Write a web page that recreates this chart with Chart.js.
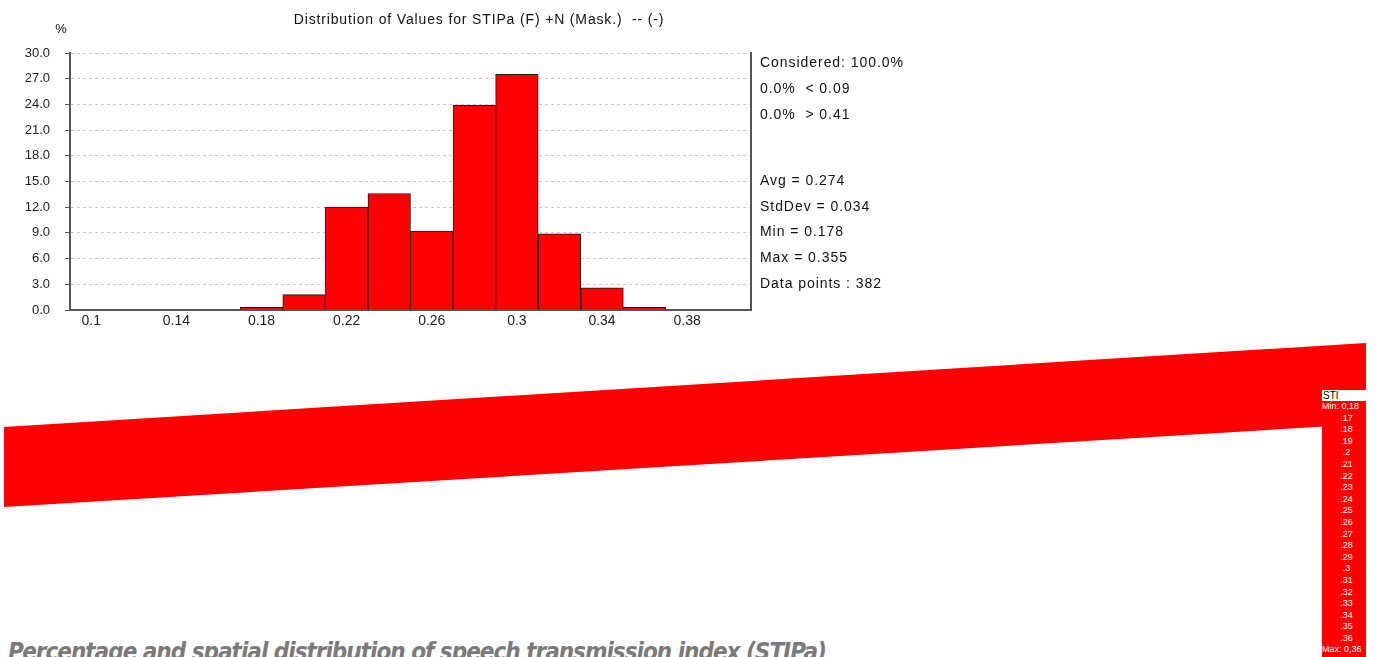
<!DOCTYPE html>
<html>
<head>
<meta charset="utf-8">
<title>Distribution of Values for STIPa</title>
<script src="https://cdn.jsdelivr.net/npm/chart.js@4.4.0/dist/chart.umd.min.js"></script>
<style>
  html, body { margin: 0; padding: 0; background: #fff; width: 1379px; height: 657px; overflow: hidden; }
  body { position: relative; font-family: 'Liberation Sans', Arial, sans-serif; }
  #chartBox { position: absolute; left: 0; top: 0; width: 1379px; height: 340px; }
  #band { position: absolute; left: 0; top: 0; width: 1379px; height: 657px; background: #ff0000;
          clip-path: polygon(4px 427px, 1366px 343px, 1366px 424px, 4px 507px); }
  #legend { position: absolute; left: 1322px; top: 390px; width: 44px; height: 267px; background: #ff0000; overflow: hidden; }
  #legend .head { height: 11px; line-height: 11px; background: #fff; color: #000; font-size: 10px; padding-left: 1px; }
  #legend .row { height: 11.6px; line-height: 11.6px; color: #fff; font-size: 9px; text-align: center; padding-left: 5px; white-space: nowrap; }
  #legend .row.edge { text-align: left; padding-left: 0; }
  #caption { position: absolute; left: 8px; top: 637px; color: #7a7a7a; font-family: 'DejaVu Sans Condensed', 'DejaVu Sans', sans-serif;
             font-stretch: condensed; font-weight: bold; font-style: italic; font-size: 24px; line-height: 30px; white-space: nowrap; letter-spacing: -1px; }
</style>
</head>
<body>
<div id="chartBox"><canvas id="histChart" width="1379" height="340"></canvas></div>
<div id="band"></div>
<div id="legend"></div>
<div id="caption">Percentage and spatial distribution of speech transmission index (STIPa)</div>

<script>
// histogram bins (centre of each 0.02 wide class) and share of data points in %
const binCenters = [0.18, 0.20, 0.22, 0.24, 0.26, 0.28, 0.30, 0.32, 0.34, 0.36];
const percentages = [0.3, 1.8, 12.0, 13.6, 9.2, 23.9, 27.5, 8.9, 2.6, 0.3];

const xTicks = [0.1, 0.14, 0.18, 0.22, 0.26, 0.3, 0.34, 0.38];
const yTicks = [0, 3, 6, 9, 12, 15, 18, 21, 24, 27, 30];

const chartTitle = 'Distribution of Values for STIPa (F) +N (Mask.)  -- (-)';
const limitLines = ['Considered: 100.0%', '0.0%  < 0.09', '0.0%  > 0.41'];
const statLines = ['Avg = 0.274', 'StdDev = 0.034', 'Min = 0.178', 'Max = 0.355', 'Data points : 382'];

// colour legend of the STI map
const legendLabels = ['Min: 0,18', '.17', '.18', '.19', '.2', '.21', '.22', '.23', '.24', '.25', '.26',
                      '.27', '.28', '.29', '.3', '.31', '.32', '.33', '.34', '.35', '.36', 'Max: 0,36'];

const legendBox = document.getElementById('legend');
legendBox.innerHTML = '<div class="head">STI</div>';
legendLabels.forEach((lbl, i) => {
    const row = document.createElement('div');
    row.className = 'row' + (i === 0 || i === legendLabels.length - 1 ? ' edge' : '');
    row.textContent = lbl;
    legendBox.appendChild(row);
});

const textPlugin = {
    id: 'textPlugin',
    afterDraw(chart) {
        const ctx = chart.ctx;
        ctx.save();
        ctx.fillStyle = '#111';
        ctx.textBaseline = 'middle';
        if ('letterSpacing' in ctx) ctx.letterSpacing = '0.85px';
        ctx.font = '14px "Liberation Sans", Arial, sans-serif';
        ctx.textAlign = 'center';
        ctx.fillText(chartTitle, 479, 20);
        if ('letterSpacing' in ctx) ctx.letterSpacing = '0px';
        ctx.font = '13px "Liberation Sans", Arial, sans-serif';
        ctx.fillText('%', 61, 29);

        ctx.textAlign = 'left';
        ctx.font = '14px "Liberation Sans", Arial, sans-serif';
        if ('letterSpacing' in ctx) ctx.letterSpacing = '0.95px';
        const x = chart.chartArea.right + 9;
        limitLines.forEach((t, i) => ctx.fillText(t, x, 63 + i * 26));
        statLines.forEach((t, i) => ctx.fillText(t, x, 181 + i * 25.7));
        ctx.restore();
    }
};

const ctx = document.getElementById('histChart').getContext('2d');
new Chart(ctx, {
    type: 'bar',
    data: {
        datasets: [{
            label: 'STIPa',
            data: binCenters.map((x, i) => ({ x: x, y: percentages[i] })),
            backgroundColor: '#ff0000',
            borderColor: '#1a1a1a',
            borderWidth: 1,
            barPercentage: 1,
            categoryPercentage: 1
        }]
    },
    options: {
        responsive: false,
        animation: false,
        layout: { padding: { left: 0, right: 628, top: 53, bottom: 0 } },
        plugins: {
            legend: { display: false },
            title: { display: false },
            tooltip: { enabled: false }
        },
        scales: {
            x: {
                type: 'linear',
                offset: false,
                min: 0.09,
                max: 0.41,
                afterBuildTicks(scale) { scale.ticks = xTicks.map(v => ({ value: v })); },
                afterFit(scale) { scale.height = 30; },
                grid: { display: false, drawTicks: false, offset: false },
                border: { display: true, color: '#555', width: 2 },
                ticks: {
                    padding: 3,
                    color: '#222',
                    font: { family: '"Liberation Sans", Arial, sans-serif', size: 14 },
                    callback: v => String(v),
                    maxRotation: 0,
                    autoSkip: false
                }
            },
            y: {
                min: 0,
                max: 30,
                afterBuildTicks(scale) { scale.ticks = yTicks.map(v => ({ value: v })); },
                afterFit(scale) { scale.width = 70; },
                grid: { color: '#c8c8c8', lineWidth: 1, tickLength: 5, tickColor: '#555', tickWidth: 1, tickBorderDash: [] },
                border: { display: true, color: '#555', width: 2, dash: [3, 3] },
                ticks: {
                    padding: 15,
                    color: '#222',
                    font: { family: '"Liberation Sans", Arial, sans-serif', size: 13 },
                    callback: v => v.toFixed(1)
                }
            },
            yRight: {
                position: 'right',
                min: 0,
                max: 30,
                afterFit(scale) { scale.width = 0; },
                grid: { display: false },
                ticks: { display: false },
                border: { display: true, color: '#555', width: 2 }
            }
        }
    },
    plugins: [textPlugin]
});
</script>
</body>
</html>
